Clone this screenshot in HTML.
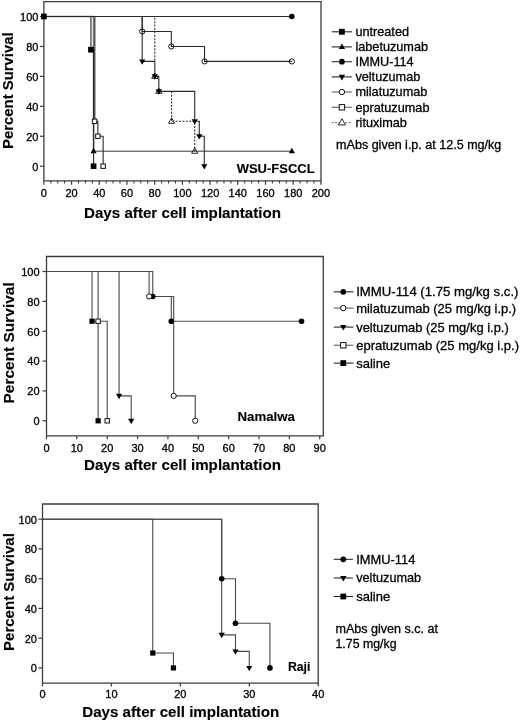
<!DOCTYPE html>
<html><head><meta charset="utf-8"><style>
html,body{margin:0;padding:0;background:#fff;}
svg{display:block;filter:blur(0.35px);font-family:"Liberation Sans",sans-serif;}
text{fill:#000;stroke:#000;stroke-width:0.3px;} text[font-weight="bold"]{stroke-width:0.12px;}
</style></head><body>
<svg width="520" height="722" viewBox="0 0 520 722">
<rect width="520" height="722" fill="#fff"/>
<path d="M43.9 180.8V1.6H321V180.8H43.9" fill="none" stroke="#3c3c3c" stroke-width="1.3"/>
<path d="M39.9 166.2H43.9" stroke="#3c3c3c" stroke-width="1.2"/>
<text x="38.4" y="170.8" font-size="11" text-anchor="end">0</text>
<path d="M39.9 136.26H43.9" stroke="#3c3c3c" stroke-width="1.2"/>
<text x="38.4" y="140.86" font-size="11" text-anchor="end">20</text>
<path d="M39.9 106.32H43.9" stroke="#3c3c3c" stroke-width="1.2"/>
<text x="38.4" y="110.92" font-size="11" text-anchor="end">40</text>
<path d="M39.9 76.38H43.9" stroke="#3c3c3c" stroke-width="1.2"/>
<text x="38.4" y="80.98" font-size="11" text-anchor="end">60</text>
<path d="M39.9 46.44H43.9" stroke="#3c3c3c" stroke-width="1.2"/>
<text x="38.4" y="51.04" font-size="11" text-anchor="end">80</text>
<path d="M39.9 16.5H43.9" stroke="#3c3c3c" stroke-width="1.2"/>
<text x="38.4" y="21.1" font-size="11" text-anchor="end">100</text>
<path d="M43.85 180.8V184.8" stroke="#3c3c3c" stroke-width="1.2"/>
<text x="43.85" y="196.9" font-size="11" text-anchor="middle">0</text>
<path d="M71.56 180.8V184.8" stroke="#3c3c3c" stroke-width="1.2"/>
<text x="71.56" y="196.9" font-size="11" text-anchor="middle">20</text>
<path d="M99.26 180.8V184.8" stroke="#3c3c3c" stroke-width="1.2"/>
<text x="99.26" y="196.9" font-size="11" text-anchor="middle">40</text>
<path d="M126.97 180.8V184.8" stroke="#3c3c3c" stroke-width="1.2"/>
<text x="126.97" y="196.9" font-size="11" text-anchor="middle">60</text>
<path d="M154.67 180.8V184.8" stroke="#3c3c3c" stroke-width="1.2"/>
<text x="154.67" y="196.9" font-size="11" text-anchor="middle">80</text>
<path d="M182.38 180.8V184.8" stroke="#3c3c3c" stroke-width="1.2"/>
<text x="182.38" y="196.9" font-size="11" text-anchor="middle">100</text>
<path d="M210.09 180.8V184.8" stroke="#3c3c3c" stroke-width="1.2"/>
<text x="210.09" y="196.9" font-size="11" text-anchor="middle">120</text>
<path d="M237.79 180.8V184.8" stroke="#3c3c3c" stroke-width="1.2"/>
<text x="237.79" y="196.9" font-size="11" text-anchor="middle">140</text>
<path d="M265.5 180.8V184.8" stroke="#3c3c3c" stroke-width="1.2"/>
<text x="265.5" y="196.9" font-size="11" text-anchor="middle">160</text>
<path d="M293.2 180.8V184.8" stroke="#3c3c3c" stroke-width="1.2"/>
<text x="293.2" y="196.9" font-size="11" text-anchor="middle">180</text>
<path d="M320.91 180.8V184.8" stroke="#3c3c3c" stroke-width="1.2"/>
<text x="320.91" y="196.9" font-size="11" text-anchor="middle">200</text>
<path d="M50.78 180.8V183.5" stroke="#3c3c3c" stroke-width="1.1"/>
<path d="M57.7 180.8V183.5" stroke="#3c3c3c" stroke-width="1.1"/>
<path d="M64.63 180.8V183.5" stroke="#3c3c3c" stroke-width="1.1"/>
<path d="M78.48 180.8V183.5" stroke="#3c3c3c" stroke-width="1.1"/>
<path d="M85.41 180.8V183.5" stroke="#3c3c3c" stroke-width="1.1"/>
<path d="M92.34 180.8V183.5" stroke="#3c3c3c" stroke-width="1.1"/>
<path d="M106.19 180.8V183.5" stroke="#3c3c3c" stroke-width="1.1"/>
<path d="M113.12 180.8V183.5" stroke="#3c3c3c" stroke-width="1.1"/>
<path d="M120.04 180.8V183.5" stroke="#3c3c3c" stroke-width="1.1"/>
<path d="M133.89 180.8V183.5" stroke="#3c3c3c" stroke-width="1.1"/>
<path d="M140.82 180.8V183.5" stroke="#3c3c3c" stroke-width="1.1"/>
<path d="M147.75 180.8V183.5" stroke="#3c3c3c" stroke-width="1.1"/>
<path d="M161.6 180.8V183.5" stroke="#3c3c3c" stroke-width="1.1"/>
<path d="M168.53 180.8V183.5" stroke="#3c3c3c" stroke-width="1.1"/>
<path d="M175.45 180.8V183.5" stroke="#3c3c3c" stroke-width="1.1"/>
<path d="M189.31 180.8V183.5" stroke="#3c3c3c" stroke-width="1.1"/>
<path d="M196.23 180.8V183.5" stroke="#3c3c3c" stroke-width="1.1"/>
<path d="M203.16 180.8V183.5" stroke="#3c3c3c" stroke-width="1.1"/>
<path d="M217.01 180.8V183.5" stroke="#3c3c3c" stroke-width="1.1"/>
<path d="M223.94 180.8V183.5" stroke="#3c3c3c" stroke-width="1.1"/>
<path d="M230.87 180.8V183.5" stroke="#3c3c3c" stroke-width="1.1"/>
<path d="M244.72 180.8V183.5" stroke="#3c3c3c" stroke-width="1.1"/>
<path d="M251.64 180.8V183.5" stroke="#3c3c3c" stroke-width="1.1"/>
<path d="M258.57 180.8V183.5" stroke="#3c3c3c" stroke-width="1.1"/>
<path d="M272.42 180.8V183.5" stroke="#3c3c3c" stroke-width="1.1"/>
<path d="M279.35 180.8V183.5" stroke="#3c3c3c" stroke-width="1.1"/>
<path d="M286.28 180.8V183.5" stroke="#3c3c3c" stroke-width="1.1"/>
<path d="M300.13 180.8V183.5" stroke="#3c3c3c" stroke-width="1.1"/>
<path d="M307.06 180.8V183.5" stroke="#3c3c3c" stroke-width="1.1"/>
<path d="M313.98 180.8V183.5" stroke="#3c3c3c" stroke-width="1.1"/>
<path d="M43.85 16.5H291.82" fill="none" stroke="#2a2a2a" stroke-width="1.1"/>
<path d="M43.85 16.5H93.58V151.23H291.82" fill="none" stroke="#7a7a7a" stroke-width="1.6"/>
<path d="M43.85 16.5H90.95V49.73H93.58V166.2" fill="none" stroke="#2a2a2a" stroke-width="1.1"/>
<path d="M43.85 16.5H142.21V31.47H171.3V46.44H204.54V61.41H291.82" fill="none" stroke="#2a2a2a" stroke-width="1.1"/>
<path d="M43.85 16.5H94.83V121.29H97.88V136.26H103.14V166.2" fill="none" stroke="#2a2a2a" stroke-width="1.1"/>
<path d="M43.85 16.5H154.81V61.41" fill="none" stroke="#2a2a2a" stroke-width="1.1" stroke-dasharray="2 1.4"/>
<path d="M171.57 91.35V121.29H194.71V151.23" fill="none" stroke="#2a2a2a" stroke-width="1.1" stroke-dasharray="2 1.4"/>
<path d="M43.85 16.5H142.21V61.41H154.81V76.38H158.83V91.35H194.71V121.29H199.28V136.26H204.27V166.2" fill="none" stroke="#2a2a2a" stroke-width="1.1"/>
<circle cx="291.82" cy="16.5" r="2.8" fill="#000"/>
<path d="M93.58 147.87L96.68 153.25L90.48 153.25Z" fill="#000"/>
<path d="M291.82 147.87L294.92 153.25L288.72 153.25Z" fill="#000"/>
<rect x="41" y="13.65" width="5.7" height="5.7" fill="#000"/>
<rect x="88.1" y="46.88" width="5.7" height="5.7" fill="#000"/>
<rect x="90.73" y="163.35" width="5.7" height="5.7" fill="#000"/>
<circle cx="142.21" cy="31.47" r="2.6" fill="none" stroke="#111" stroke-width="1"/>
<circle cx="171.3" cy="46.44" r="2.6" fill="none" stroke="#111" stroke-width="1"/>
<circle cx="204.54" cy="61.41" r="2.6" fill="none" stroke="#111" stroke-width="1"/>
<circle cx="291.82" cy="61.41" r="2.6" fill="none" stroke="#111" stroke-width="1"/>
<rect x="92.35" y="119.09" width="4.4" height="4.4" fill="#fff" stroke="#111" stroke-width="1"/>
<rect x="95.68" y="134.06" width="4.4" height="4.4" fill="#fff" stroke="#111" stroke-width="1"/>
<rect x="100.94" y="164" width="4.4" height="4.4" fill="#fff" stroke="#111" stroke-width="1"/>
<path d="M154.81 73.02L157.91 78.4L151.71 78.4Z" fill="none" stroke="#111" stroke-width="0.9"/>
<path d="M158.83 87.99L161.93 93.37L155.73 93.37Z" fill="none" stroke="#111" stroke-width="0.9"/>
<path d="M171.57 117.93L174.67 123.31L168.47 123.31Z" fill="none" stroke="#111" stroke-width="0.9"/>
<path d="M194.71 147.87L197.81 153.25L191.61 153.25Z" fill="none" stroke="#111" stroke-width="0.9"/>
<path d="M142.21 64.77L145.31 59.39L139.11 59.39Z" fill="#000"/>
<path d="M154.81 79.74L157.91 74.36L151.71 74.36Z" fill="#000"/>
<path d="M158.83 94.71L161.93 89.33L155.73 89.33Z" fill="#000"/>
<path d="M194.71 124.65L197.81 119.27L191.61 119.27Z" fill="#000"/>
<path d="M199.28 139.62L202.38 134.24L196.18 134.24Z" fill="#000"/>
<path d="M204.27 169.56L207.37 164.18L201.17 164.18Z" fill="#000"/>
<text transform="translate(13.2 90.7) rotate(-90)" font-size="15" font-weight="bold" text-anchor="middle" textLength="116.6" lengthAdjust="spacingAndGlyphs">Percent Survival</text>
<text x="84" y="217.9" font-size="15" text-anchor="start" font-weight="bold" textLength="197" lengthAdjust="spacingAndGlyphs">Days after cell implantation</text>
<text x="236.7" y="173.1" font-size="13" text-anchor="start" font-weight="bold" textLength="77.9" lengthAdjust="spacingAndGlyphs">WSU-FSCCL</text>
<path d="M331.7 31.8H351.9" stroke="#2a2a2a" stroke-width="1.1"/>
<rect x="339" y="28.9" width="5.8" height="5.8" fill="#000"/>
<text x="355.4" y="36.2" font-size="12.7" text-anchor="start">untreated</text>
<path d="M331.7 46.9H351.9" stroke="#2a2a2a" stroke-width="1.1"/>
<path d="M341.9 43.42L345.1 48.99L338.7 48.99Z" fill="#000"/>
<text x="355.4" y="51.3" font-size="12.7" text-anchor="start">labetuzumab</text>
<path d="M331.7 61.7H351.9" stroke="#2a2a2a" stroke-width="1.1"/>
<circle cx="341.9" cy="61.7" r="2.9" fill="#000"/>
<text x="355.4" y="66.1" font-size="12.7" text-anchor="start">IMMU-114</text>
<path d="M331.7 76.9H351.9" stroke="#2a2a2a" stroke-width="1.1"/>
<path d="M341.9 80.38L345.1 74.81L338.7 74.81Z" fill="#000"/>
<text x="355.4" y="81.3" font-size="12.7" text-anchor="start">veltuzumab</text>
<path d="M331.7 92H351.9" stroke="#7a7a7a" stroke-width="1.3"/>
<circle cx="341.9" cy="92" r="2.7" fill="#fff" stroke="#111" stroke-width="1"/>
<text x="355.4" y="96.4" font-size="12.7" text-anchor="start">milatuzumab</text>
<path d="M331.7 107.3H351.9" stroke="#7a7a7a" stroke-width="1.3"/>
<rect x="339.2" y="104.6" width="5.4" height="5.4" fill="#fff" stroke="#111" stroke-width="1"/>
<text x="355.4" y="111.7" font-size="12.7" text-anchor="start">epratuzumab</text>
<path d="M331.7 122.6H351.9" stroke="#7a7a7a" stroke-width="1.3" stroke-dasharray="2 1.4"/>
<path d="M341.9 118.76L345.4 124.9L338.4 124.9Z" fill="#fff" stroke="#111" stroke-width="0.9"/>
<text x="355.4" y="127" font-size="12.7" text-anchor="start">rituximab</text>
<text x="336.1" y="148.7" font-size="12" text-anchor="start" textLength="165.2" lengthAdjust="spacingAndGlyphs">mAbs given i.p. at 12.5 mg/kg</text>
<path d="M46.5 435.9V256.5H323.3V435.9H46.5" fill="none" stroke="#3c3c3c" stroke-width="1.3"/>
<path d="M42.5 420.8H46.5" stroke="#3c3c3c" stroke-width="1.2"/>
<text x="39.6" y="425.2" font-size="11" text-anchor="end">0</text>
<path d="M42.5 390.94H46.5" stroke="#3c3c3c" stroke-width="1.2"/>
<text x="39.6" y="395.34" font-size="11" text-anchor="end">20</text>
<path d="M42.5 361.08H46.5" stroke="#3c3c3c" stroke-width="1.2"/>
<text x="39.6" y="365.48" font-size="11" text-anchor="end">40</text>
<path d="M42.5 331.22H46.5" stroke="#3c3c3c" stroke-width="1.2"/>
<text x="39.6" y="335.62" font-size="11" text-anchor="end">60</text>
<path d="M42.5 301.36H46.5" stroke="#3c3c3c" stroke-width="1.2"/>
<text x="39.6" y="305.76" font-size="11" text-anchor="end">80</text>
<path d="M42.5 271.5H46.5" stroke="#3c3c3c" stroke-width="1.2"/>
<text x="39.6" y="275.9" font-size="11" text-anchor="end">100</text>
<path d="M46.5 435.9V439.2" stroke="#3c3c3c" stroke-width="1.2"/>
<text x="46.5" y="451.7" font-size="11" text-anchor="middle">0</text>
<path d="M76.86 435.9V439.2" stroke="#3c3c3c" stroke-width="1.2"/>
<text x="76.86" y="451.7" font-size="11" text-anchor="middle">10</text>
<path d="M107.22 435.9V439.2" stroke="#3c3c3c" stroke-width="1.2"/>
<text x="107.22" y="451.7" font-size="11" text-anchor="middle">20</text>
<path d="M137.58 435.9V439.2" stroke="#3c3c3c" stroke-width="1.2"/>
<text x="137.58" y="451.7" font-size="11" text-anchor="middle">30</text>
<path d="M167.94 435.9V439.2" stroke="#3c3c3c" stroke-width="1.2"/>
<text x="167.94" y="451.7" font-size="11" text-anchor="middle">40</text>
<path d="M198.3 435.9V439.2" stroke="#3c3c3c" stroke-width="1.2"/>
<text x="198.3" y="451.7" font-size="11" text-anchor="middle">50</text>
<path d="M228.66 435.9V439.2" stroke="#3c3c3c" stroke-width="1.2"/>
<text x="228.66" y="451.7" font-size="11" text-anchor="middle">60</text>
<path d="M259.02 435.9V439.2" stroke="#3c3c3c" stroke-width="1.2"/>
<text x="259.02" y="451.7" font-size="11" text-anchor="middle">70</text>
<path d="M289.38 435.9V439.2" stroke="#3c3c3c" stroke-width="1.2"/>
<text x="289.38" y="451.7" font-size="11" text-anchor="middle">80</text>
<path d="M319.74 435.9V439.2" stroke="#3c3c3c" stroke-width="1.2"/>
<text x="319.74" y="451.7" font-size="11" text-anchor="middle">90</text>
<path d="M46.5 271.5H152.76V296.43H171.28V321.22H301.52" fill="none" stroke="#4a4a4a" stroke-width="1.1"/>
<path d="M46.5 271.5H149.12V296.43H173.71V395.87H195.26V420.8" fill="none" stroke="#4a4a4a" stroke-width="1.1"/>
<path d="M46.5 271.5H119.06V395.87H131.2V420.8" fill="none" stroke="#4a4a4a" stroke-width="1.1"/>
<path d="M46.5 271.5H98.11V321.22H107.22V420.8" fill="none" stroke="#4a4a4a" stroke-width="1.1"/>
<path d="M46.5 271.5H92.04V321.22H98.11V420.8" fill="none" stroke="#4a4a4a" stroke-width="1.1"/>
<circle cx="152.76" cy="296.43" r="2.8" fill="#000"/>
<circle cx="171.28" cy="321.22" r="2.8" fill="#000"/>
<circle cx="301.52" cy="321.22" r="2.8" fill="#000"/>
<circle cx="149.12" cy="296.43" r="2.6" fill="#fff" stroke="#111" stroke-width="1"/>
<circle cx="173.71" cy="395.87" r="2.6" fill="#fff" stroke="#111" stroke-width="1"/>
<circle cx="195.26" cy="420.8" r="2.6" fill="#fff" stroke="#111" stroke-width="1"/>
<path d="M119.06 399.23L122.16 393.85L115.96 393.85Z" fill="#000"/>
<path d="M131.2 424.16L134.3 418.78L128.1 418.78Z" fill="#000"/>
<rect x="95.91" y="319.02" width="4.4" height="4.4" fill="#fff" stroke="#111" stroke-width="1"/>
<rect x="105.02" y="418.6" width="4.4" height="4.4" fill="#fff" stroke="#111" stroke-width="1"/>
<rect x="89.44" y="318.62" width="5.2" height="5.2" fill="#000"/>
<rect x="95.51" y="418.2" width="5.2" height="5.2" fill="#000"/>
<text transform="translate(13.5 342.9) rotate(-90)" font-size="15" font-weight="bold" text-anchor="middle" textLength="121.2" lengthAdjust="spacingAndGlyphs">Percent Survival</text>
<text x="84" y="470.1" font-size="15" text-anchor="start" font-weight="bold" textLength="197" lengthAdjust="spacingAndGlyphs">Days after cell implantation</text>
<text x="237.5" y="420.6" font-size="13" text-anchor="start" font-weight="bold" textLength="57.3" lengthAdjust="spacingAndGlyphs">Namalwa</text>
<path d="M333.7 291.8H353.5" stroke="#2a2a2a" stroke-width="1.1"/>
<circle cx="343.3" cy="291.8" r="2.9" fill="#000"/>
<text x="356.2" y="296.4" font-size="13" text-anchor="start" textLength="162.3" lengthAdjust="spacingAndGlyphs">IMMU-114 (1.75 mg/kg s.c.)</text>
<path d="M333.7 308.1H353.5" stroke="#7a7a7a" stroke-width="1.3"/>
<circle cx="343.3" cy="308.1" r="2.7" fill="#fff" stroke="#111" stroke-width="1"/>
<text x="356.2" y="312.7" font-size="13" text-anchor="start" textLength="160" lengthAdjust="spacingAndGlyphs">milatuzumab (25 mg/kg i.p.)</text>
<path d="M333.7 327.1H353.5" stroke="#2a2a2a" stroke-width="1.1"/>
<path d="M343.3 330.58L346.5 325.01L340.1 325.01Z" fill="#000"/>
<text x="356.2" y="331.7" font-size="13" text-anchor="start" textLength="152.6" lengthAdjust="spacingAndGlyphs">veltuzumab (25 mg/kg i.p.)</text>
<path d="M333.7 345.3H353.5" stroke="#7a7a7a" stroke-width="1.3"/>
<rect x="340.6" y="342.6" width="5.4" height="5.4" fill="#fff" stroke="#111" stroke-width="1"/>
<text x="356.2" y="349.9" font-size="13" text-anchor="start" textLength="162.8" lengthAdjust="spacingAndGlyphs">epratuzumab (25 mg/kg i.p.)</text>
<path d="M333.7 363.1H353.5" stroke="#2a2a2a" stroke-width="1.1"/>
<rect x="340.4" y="360.2" width="5.8" height="5.8" fill="#000"/>
<text x="356.2" y="367.7" font-size="13" text-anchor="start">saline</text>
<path d="M42.5 683.1V504H318.2V683.1H42.5" fill="none" stroke="#3c3c3c" stroke-width="1.3"/>
<path d="M38.5 667.9H42.5" stroke="#3c3c3c" stroke-width="1.2"/>
<text x="36.9" y="672.3" font-size="11" text-anchor="end">0</text>
<path d="M38.5 638.16H42.5" stroke="#3c3c3c" stroke-width="1.2"/>
<text x="36.9" y="642.56" font-size="11" text-anchor="end">20</text>
<path d="M38.5 608.42H42.5" stroke="#3c3c3c" stroke-width="1.2"/>
<text x="36.9" y="612.82" font-size="11" text-anchor="end">40</text>
<path d="M38.5 578.68H42.5" stroke="#3c3c3c" stroke-width="1.2"/>
<text x="36.9" y="583.08" font-size="11" text-anchor="end">60</text>
<path d="M38.5 548.94H42.5" stroke="#3c3c3c" stroke-width="1.2"/>
<text x="36.9" y="553.34" font-size="11" text-anchor="end">80</text>
<path d="M38.5 519.2H42.5" stroke="#3c3c3c" stroke-width="1.2"/>
<text x="36.9" y="523.6" font-size="11" text-anchor="end">100</text>
<path d="M42.5 683.1V686.5" stroke="#3c3c3c" stroke-width="1.2"/>
<text x="42.5" y="698.4" font-size="11" text-anchor="middle">0</text>
<path d="M111.42 683.1V686.5" stroke="#3c3c3c" stroke-width="1.2"/>
<text x="111.42" y="698.4" font-size="11" text-anchor="middle">10</text>
<path d="M180.35 683.1V686.5" stroke="#3c3c3c" stroke-width="1.2"/>
<text x="180.35" y="698.4" font-size="11" text-anchor="middle">20</text>
<path d="M249.28 683.1V686.5" stroke="#3c3c3c" stroke-width="1.2"/>
<text x="249.28" y="698.4" font-size="11" text-anchor="middle">30</text>
<path d="M318.2 683.1V686.5" stroke="#3c3c3c" stroke-width="1.2"/>
<text x="318.2" y="698.4" font-size="11" text-anchor="middle">40</text>
<path d="M42.5 519.2H221.71V578.68H235.49V623.29H269.95V667.9" fill="none" stroke="#4a4a4a" stroke-width="1.1"/>
<path d="M42.5 519.2H221.71V634.89H235.49V651.39H249.28V667.9" fill="none" stroke="#4a4a4a" stroke-width="1.1"/>
<path d="M42.5 519.2H152.78V653.03H173.46V667.9" fill="none" stroke="#4a4a4a" stroke-width="1.1"/>
<circle cx="221.71" cy="578.68" r="2.8" fill="#000"/>
<circle cx="235.49" cy="623.29" r="2.8" fill="#000"/>
<circle cx="269.95" cy="667.9" r="2.8" fill="#000"/>
<path d="M221.71 638.25L224.81 632.87L218.6 632.87Z" fill="#000"/>
<path d="M235.49 654.75L238.59 649.38L232.39 649.38Z" fill="#000"/>
<path d="M249.28 671.26L252.38 665.88L246.17 665.88Z" fill="#000"/>
<rect x="150.18" y="650.43" width="5.2" height="5.2" fill="#000"/>
<rect x="170.86" y="665.3" width="5.2" height="5.2" fill="#000"/>
<text transform="translate(13.6 592.1) rotate(-90)" font-size="15" font-weight="bold" text-anchor="middle" textLength="117.8" lengthAdjust="spacingAndGlyphs">Percent Survival</text>
<text x="82.2" y="717.2" font-size="15" text-anchor="start" font-weight="bold" textLength="197" lengthAdjust="spacingAndGlyphs">Days after cell implantation</text>
<text x="287.9" y="671.4" font-size="13" text-anchor="start" font-weight="bold" textLength="22.5" lengthAdjust="spacingAndGlyphs">Raji</text>
<path d="M333.7 559.3H352.9" stroke="#2a2a2a" stroke-width="1.1"/>
<circle cx="343.3" cy="559.3" r="2.9" fill="#000"/>
<text x="356.2" y="563.6" font-size="13" text-anchor="start" textLength="59.1" lengthAdjust="spacingAndGlyphs">IMMU-114</text>
<path d="M333.7 578H352.9" stroke="#2a2a2a" stroke-width="1.1"/>
<path d="M343.3 581.48L346.5 575.91L340.1 575.91Z" fill="#000"/>
<text x="356.2" y="582.3" font-size="13" text-anchor="start" textLength="65" lengthAdjust="spacingAndGlyphs">veltuzumab</text>
<path d="M333.7 596.5H352.9" stroke="#2a2a2a" stroke-width="1.1"/>
<rect x="340.4" y="593.6" width="5.8" height="5.8" fill="#000"/>
<text x="356.2" y="600.8" font-size="13" text-anchor="start">saline</text>
<text x="335.5" y="633.1" font-size="12.5" text-anchor="start" textLength="102.5" lengthAdjust="spacingAndGlyphs">mAbs given s.c. at</text>
<text x="335.5" y="648.1" font-size="12.5" text-anchor="start" textLength="61" lengthAdjust="spacingAndGlyphs">1.75 mg/kg</text>
</svg>
</body></html>
